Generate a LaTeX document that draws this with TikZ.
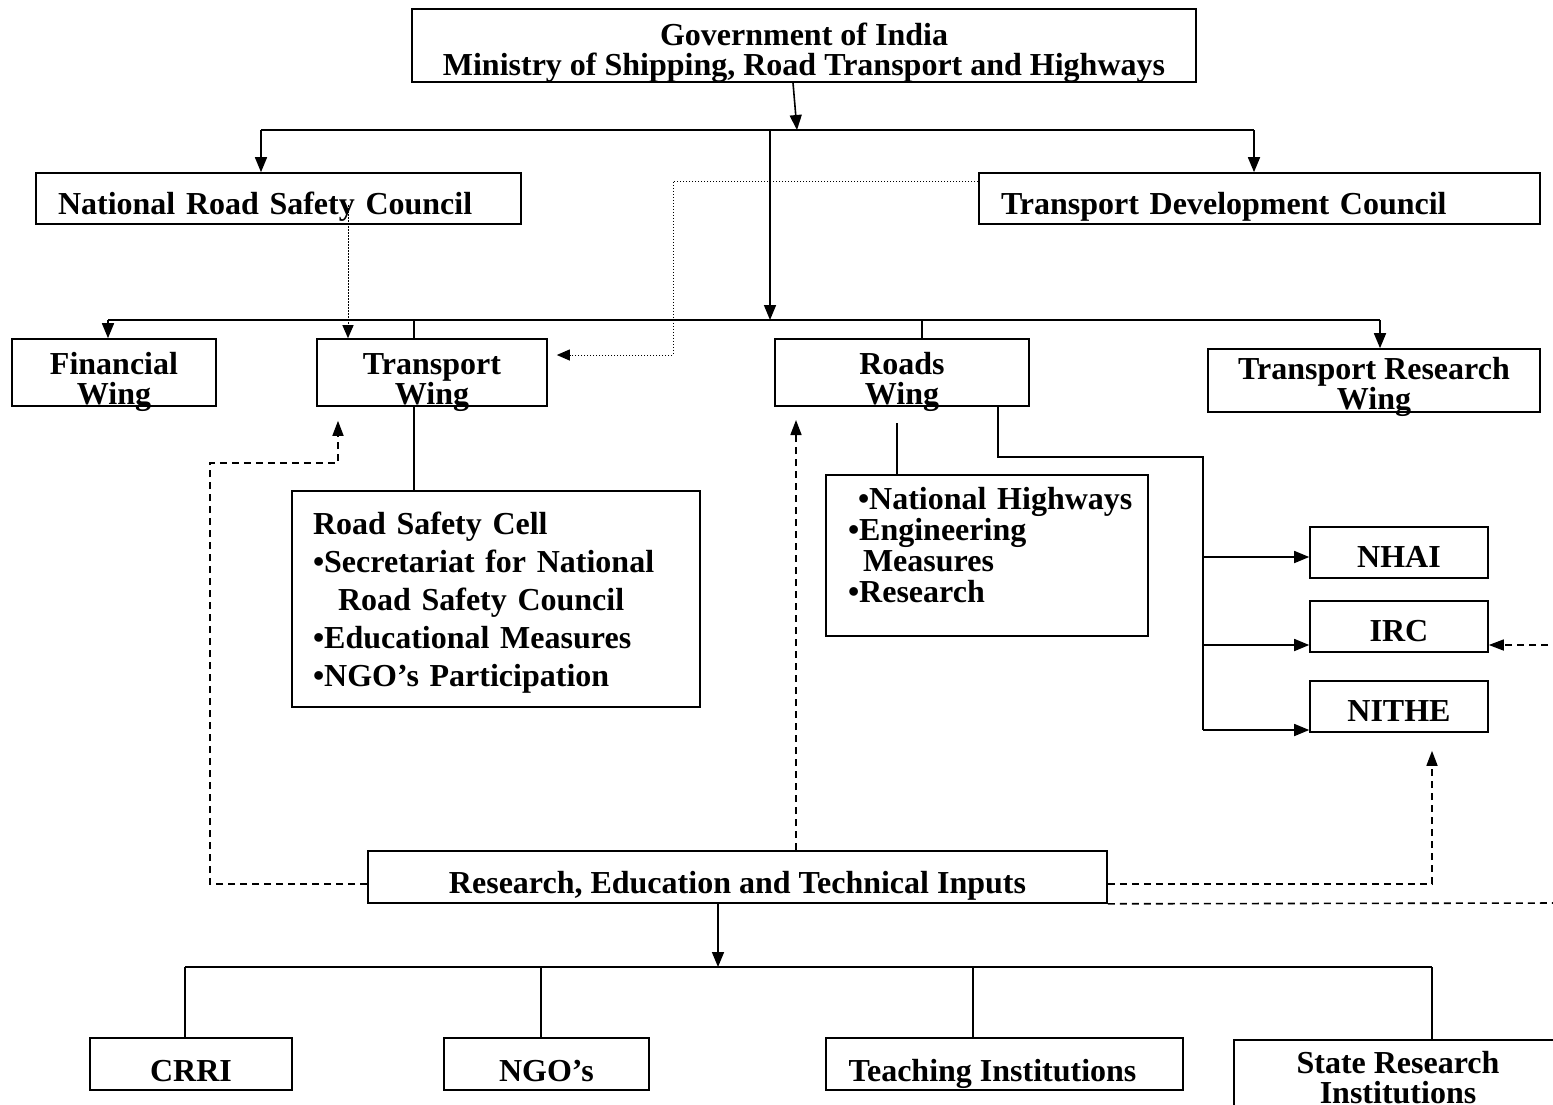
\documentclass[tikz,border=0pt]{standalone}
\usepackage{fontspec}
\setmainfont{Liberation Serif}
\usetikzlibrary{arrows.meta}

\tikzset{
  box/.style={draw, line width=1.6pt, inner sep=0pt, align=center,
    font=\fontsize{32}{30}\selectfont\bfseries},
  sz/.style 2 args={minimum width=#1pt, minimum height=#2pt},
  tb/.style 2 args={text height=#1pt, text depth=#2pt},
  line/.style={line width=1.6pt},
  arr/.style={line, -{Triangle[length=15pt,width=12pt]}},
  dotarr/.style={line width=1pt, dash pattern=on 1.5pt off 1.5pt,
    -{Triangle[length=13pt,width=11pt]}},
  dashline/.style={line width=1.6pt, dash pattern=on 7pt off 5pt},
  dasharr/.style={dashline, -{Triangle[length=15pt,width=11pt]}}
}

\begin{document}
\begin{tikzpicture}[x=1pt,y=-1pt] % pixel grid 1553 x 1104
  \useasboundingbox (0,0) rectangle (1553,1104);
  \clip (0,0) rectangle (1553,1104);

  \node[box,sz={784}{73},tb={64}{4}] (gov) at (804,45.5)
    {Government of India\\Ministry of Shipping, Road Transport and Highways};
  \node[box,sz={485}{51},tb={40}{8},inner xsep=22pt,text width=441pt,align=left] (nrsc) at (278.5,198.5)
    {National Road Safety Council};
  \node[box,sz={561}{51},tb={40}{8},inner xsep=22pt,text width=517pt,align=left] (tdc) at (1259.5,198.5)
    {Transport Development Council};

  \node[box,sz={204}{67},tb={64}{0}] (fin) at (114,372.5) {Financial\\Wing};
  \node[box,sz={230}{67},tb={64}{0}] (tw) at (432,372.5) {Transport\\Wing};
  \node[box,sz={254}{67},tb={64}{0}] (rw) at (902,372.5) {Roads\\Wing};
  \node[box,sz={332}{63},tb={58}{0}] (trw) at (1374,380.5) {Transport Research\\Wing};

  \node[box,sz={408}{216},tb={0}{130},inner xsep=21pt,text width=366pt,align=left,
        font=\fontsize{32}{38}\selectfont\bfseries] (rsc) at (496,599)
    {Road Safety Cell\\•Secretariat for National\\\hspace*{25pt}Road Safety Council\\%
     •Educational Measures\\•NGO’s Participation};
  \node[box,sz={322}{161},tb={0}{92},text width=322pt,align=left,
        font=\fontsize{32}{31}\selectfont\bfseries] (rbox) at (987,555.5)
    {\hspace*{32pt}•National Highways\\\hspace*{22pt}•Engineering\\%
     \hspace*{37pt}Measures\\\hspace*{22pt}•Research};

  \node[box,sz={178}{51},tb={38}{8}] (nhai) at (1399,552.5) {NHAI};
  \node[box,sz={178}{51},tb={38}{8}] (irc) at (1399,626.5) {IRC};
  \node[box,sz={178}{51},tb={38}{8}] (nithe) at (1399,706.5) {NITHE};

  \node[box,sz={739}{52},tb={41}{8}] (rei) at (737.5,877) {Research, Education and Technical Inputs};

  \node[box,sz={202}{52},tb={43}{8}] (crri) at (191,1064) {CRRI};
  \node[box,sz={205}{52},tb={43}{8}] (ngo) at (546.5,1064) {NGO’s};
  \node[box,sz={357}{52},tb={43}{8}] (teach) at (1004.5,1064) {Teaching Institutions\hspace*{24pt}};
  \node[box,sz={328}{84},tb={43}{0}] (state) at (1398,1082) {State Research\\Institutions};

  % ministry to councils and wings
  \coordinate (top) at (797,130);
  \coordinate (cl) at (261,130);
  \coordinate (cr) at (1254,130);
  \coordinate (mid) at (770,130);
  \coordinate (bus) at (770,320);
  \coordinate (wl) at (108,320);
  \coordinate (wt) at (414,320);
  \coordinate (wr) at (922,320);
  \coordinate (wtr) at (1380,320);
  \draw[arr] ([xshift=-11pt]gov.south) -- (top);
  \draw[line] (cl) -- (cr);
  \draw[arr] (cl) -- (cl |- nrsc.north);
  \draw[arr] (cr) -- (cr |- tdc.north);
  \draw[arr] (mid) -- (bus);
  \draw[line] (wl) -- (wtr);
  \draw[arr] (wl) -- (wl |- fin.north);
  \draw[line] (wt) -- (wt |- tw.north);
  \draw[line] (wr) -- (wr |- rw.north);
  \draw[arr] (wtr) -- (wtr |- trw.north);

  \coordinate (nd) at (348,205);
  \draw[dotarr] (nd) -- (nd |- tw.north);
  \draw[dotarr] ([yshift=17.5pt]tdc.west) -| (673,355) -- ([xshift=9pt,yshift=17.5pt]tw.east);

  % cells under the wings
  \coordinate (ts) at ([xshift=-18pt]tw.south);
  \draw[line] (ts) -- (ts |- rsc.north);
  \coordinate (rs) at (897,423);
  \draw[line] (rs) -- (rs |- rbox.north);
  \coordinate (rt) at ([xshift=96pt]rw.south);
  \coordinate (rv) at (1203,457);
  \coordinate (a1) at ([yshift=-4.5pt]nhai.west);
  \coordinate (a2) at ([yshift=-18.5pt]irc.west);
  \coordinate (a3) at ([yshift=-23.5pt]nithe.west);
  \draw[line] (rt) |- (rv) -- (rv |- a3);
  \foreach \a in {a1,a2,a3} \draw[arr] (rv |- \a) -- (\a);
  \coordinate (ie) at (1560,645);
  \draw[dasharr] (ie) -- (ie -| irc.east);

  % research inputs
  \coordinate (tin) at ([xshift=-94pt,yshift=-14pt]tw.south);
  \coordinate (rin) at (796,420);
  \coordinate (nin) at ([xshift=33pt,yshift=-18pt]nithe.south);
  \coordinate (re) at (1560,903);
  \draw[dasharr] ([yshift=-7pt]rei.west) -| (210,463) -| (tin);
  \draw[dasharr] (rin |- rei.north) -- (rin);
  \draw[dasharr] ([yshift=-7pt]rei.east) -| (nin);
  \draw[dashline] (rei.south east) -- (re);

  \coordinate (k0) at (718,967);
  \coordinate (k1) at (185,967);
  \coordinate (k2) at (541,967);
  \coordinate (k3) at (973,967);
  \coordinate (k4) at (1432,967);
  \draw[arr] (k0 |- rei.south) -- (k0);
  \draw[line] (k1) -- (k4);
  \foreach \k/\b in {k1/crri,k2/ngo,k3/teach,k4/state}
    \draw[line] (\k) -- (\k |- \b.north);
\end{tikzpicture}
\end{document}
